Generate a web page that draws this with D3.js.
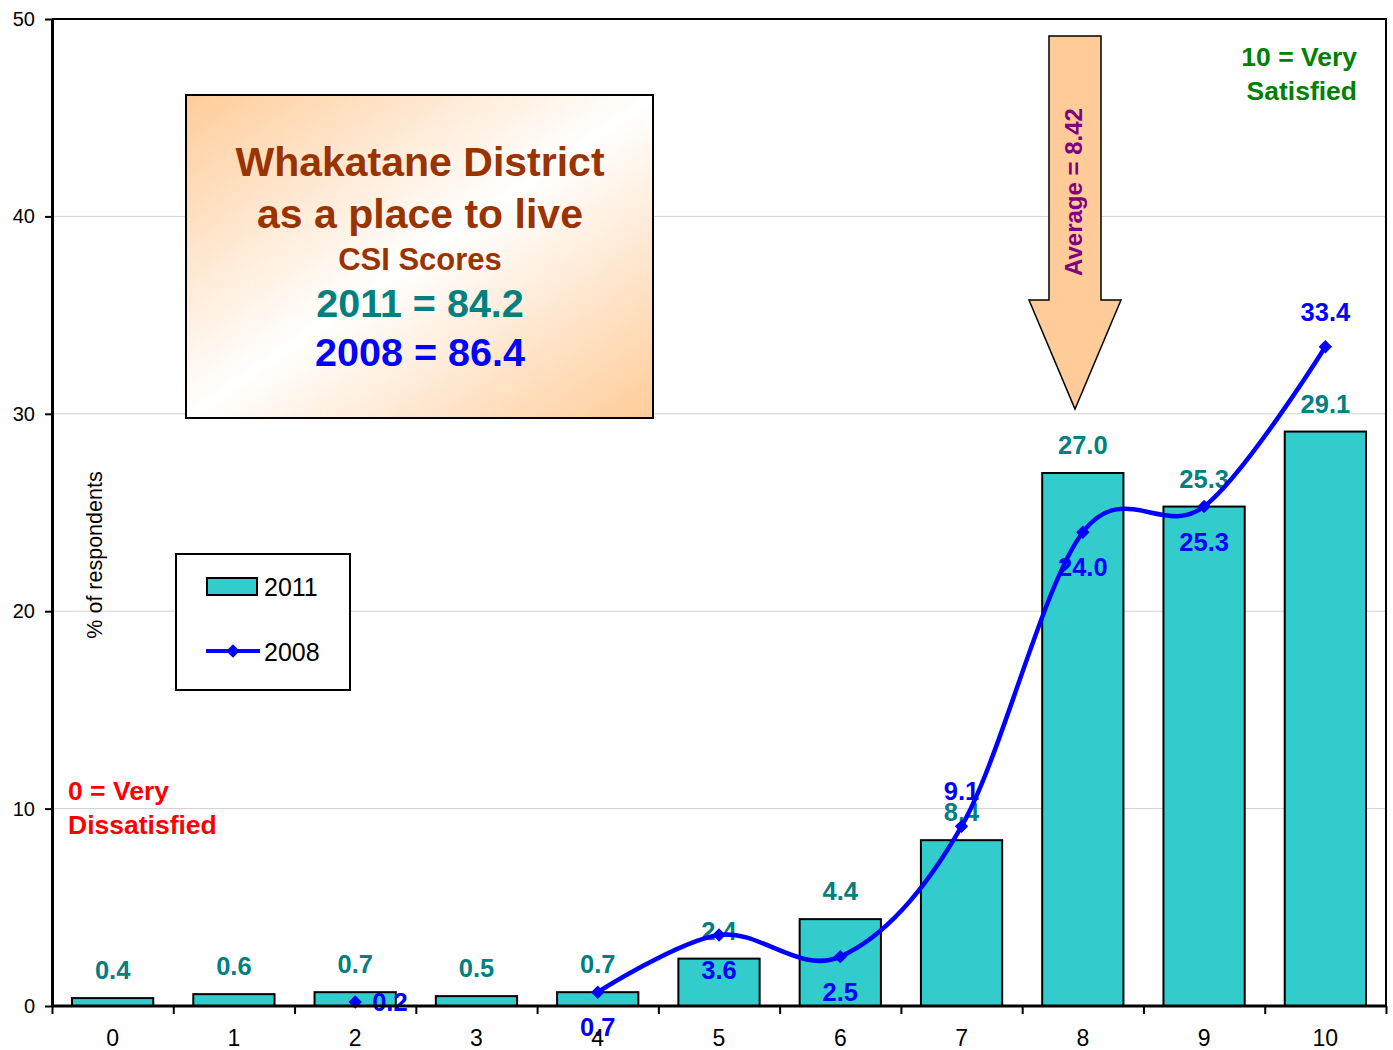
<!DOCTYPE html>
<html lang="en">
  <head>
    <meta charset="utf-8">
    <title>Whakatane District as a place to live</title>
    <script src="https://cdn.jsdelivr.net/npm/d3@7"></script>
    <style type="text/css">
      body { margin: 0; background: #fff; }
      text { font-family: "Liberation Sans", Arial, sans-serif; }
    </style>
  </head>
  <body>
    <script type="text/javascript">

      //Data
      var categories = ["0","1","2","3","4","5","6","7","8","9","10"];
      var values2011 = [0.4, 0.6, 0.7, 0.5, 0.7, 2.4, 4.4, 8.4, 27.0, 25.3, 29.1];
      var values2008 = [null, null, 0.2, null, 0.7, 3.6, 2.5, 9.1, 24.0, 25.3, 33.4];
      //where the 2008 label sits relative to its point
      var labelPos2008 = [null, null, "right", null, "below", "below", "below", "above", "below", "below", "above"];
      var yTicks = [0, 10, 20, 30, 40, 50];

      //Width and height
      var w = 1393;
      var h = 1050;
      var plotL = 52, plotR = 1386, plotT = 19, plotB = 1006;

      var svg = d3.select("body")
            .append("svg")
            .attr("width", w)
            .attr("height", h);

      //Scales
      var xScale = d3.scaleBand()
                     .domain(categories)
                     .range([plotL, plotR])
                     .padding(0);

      var yScale = d3.scaleLinear()
                     .domain([0, 50])
                     .range([plotB, plotT]);

      var barW = xScale.bandwidth() * 0.67;
      var cx = function(i) { return xScale(categories[i]) + xScale.bandwidth() / 2; };

      //Gridlines
      svg.append("g")
         .selectAll("line")
         .data(yTicks.slice(1, 5))
         .enter()
         .append("line")
         .attr("x1", plotL)
         .attr("x2", plotR)
         .attr("y1", function(d) { return yScale(d); })
         .attr("y2", function(d) { return yScale(d); })
         .attr("stroke", "#d0d0d0")
         .attr("stroke-width", 1);

      //Plot border top and right
      svg.append("path")
         .attr("d", "M" + plotL + "," + plotT + "H" + plotR + "V" + plotB)
         .attr("fill", "none")
         .attr("stroke", "#000")
         .attr("stroke-width", 2);

      //Bars 2011
      svg.append("g")
         .selectAll("rect")
         .data(values2011)
         .enter()
         .append("rect")
         .attr("x", function(d, i) { return cx(i) - barW / 2; })
         .attr("y", function(d) { return yScale(d); })
         .attr("width", barW)
         .attr("height", function(d) { return plotB - yScale(d); })
         .attr("fill", "#33CCCC")
         .attr("stroke", "#000")
         .attr("stroke-width", 2);

      //Bar labels
      svg.append("g")
         .selectAll("text")
         .data(values2011)
         .enter()
         .append("text")
         .attr("x", function(d, i) { return cx(i); })
         .attr("y", function(d) { return yScale(d) - 19; })
         .attr("text-anchor", "middle")
         .attr("font-size", "25.5px")
         .attr("font-weight", "bold")
         .attr("fill", "#008080")
         .text(function(d) { return d.toFixed(1); });

      //2008 line
      var pts2008 = values2008.map(function(d, i) { return { i: i, v: d }; });

      var line = d3.line()
                   .defined(function(d) { return d.v !== null; })
                   .curve(d3.curveCardinal.tension(0))
                   .x(function(d) { return cx(d.i); })
                   .y(function(d) { return yScale(d.v); });

      svg.append("path")
         .datum(pts2008.slice(4))
         .attr("fill", "none")
         .attr("stroke", "#0000FF")
         .attr("stroke-width", 4.5)
         .attr("d", line);

      var diamond = d3.symbol().type(d3.symbolSquare).size(90);

      svg.append("g")
         .selectAll("path")
         .data(pts2008.filter(function(d) { return d.v !== null; }))
         .enter()
         .append("path")
         .attr("d", diamond)
         .attr("transform", function(d) { return "translate(" + cx(d.i) + "," + yScale(d.v) + ") rotate(45)"; })
         .attr("fill", "#0000FF");

      //2008 labels
      svg.append("g")
         .selectAll("text")
         .data(pts2008.filter(function(d) { return d.v !== null; }))
         .enter()
         .append("text")
         .attr("x", function(d) {
           return labelPos2008[d.i] === "right" ? cx(d.i) + 17 : cx(d.i);
         })
         .attr("y", function(d) {
           var p = labelPos2008[d.i];
           if (p === "above") return yScale(d.v) - 26;
           if (p === "below") return yScale(d.v) + 44;
           return yScale(d.v) + 9;
         })
         .attr("text-anchor", function(d) { return labelPos2008[d.i] === "right" ? "start" : "middle"; })
         .attr("font-size", "25.5px")
         .attr("font-weight", "bold")
         .attr("fill", "#0000FF")
         .text(function(d) { return d.v.toFixed(1); });

      //X axis: labels at centers, ticks at band edges
      var xAxis = d3.axisBottom(xScale).tickSize(0).tickPadding(24);
      var gx = svg.append("g")
                  .attr("transform", "translate(0," + plotB + ")")
                  .call(xAxis);
      gx.select(".domain").remove();
      gx.selectAll("text").attr("font-size", "23px").attr("font-family", "Liberation Sans, Arial, sans-serif").attr("fill", "#000");

      var edges = d3.range(categories.length + 1);
      var edgeScale = d3.scaleLinear().domain([0, categories.length]).range([plotL, plotR]);
      svg.append("g")
         .attr("transform", "translate(0," + plotB + ")")
         .call(d3.axisBottom(edgeScale).tickValues(edges).tickSize(8).tickFormat(""))
         .call(function(g) {
           g.select(".domain").attr("stroke-width", 3).attr("d", "M" + plotL + ",0H" + plotR);
           g.selectAll(".tick line").attr("stroke-width", 2);
         });

      //Y axis
      var yAxis = d3.axisLeft(yScale).tickValues(yTicks).tickSize(7).tickPadding(10).tickSizeOuter(0);
      svg.append("g")
         .attr("transform", "translate(" + plotL + ",0)")
         .call(yAxis)
         .call(function(g) {
           g.select(".domain").attr("stroke-width", 3);
           g.selectAll(".tick line").attr("stroke-width", 2);
           g.selectAll("text").attr("font-size", "20px").attr("font-family", "Liberation Sans, Arial, sans-serif").attr("fill", "#000");
         });

      //Y axis title
      svg.append("text")
         .attr("transform", "translate(102,555) rotate(-90)")
         .attr("text-anchor", "middle")
         .attr("font-size", "21.5px")
         .text("% of respondents");

      //Title box with gradient
      var defs = svg.append("defs");
      var grad = defs.append("linearGradient")
                     .attr("id", "boxGrad")
                     .attr("x1", "0").attr("y1", "0")
                     .attr("x2", "1").attr("y2", "1");
      grad.append("stop").attr("offset", "0").attr("stop-color", "#FFCC99");
      grad.append("stop").attr("offset", "0.5").attr("stop-color", "#FFFFFF");
      grad.append("stop").attr("offset", "1").attr("stop-color", "#FFCC99");

      svg.append("rect")
         .attr("x", 186).attr("y", 95)
         .attr("width", 467).attr("height", 323)
         .attr("fill", "url(#boxGrad)")
         .attr("stroke", "#000")
         .attr("stroke-width", 2);

      var boxLines = [
        { t: "Whakatane District", y: 176, s: 41, c: "#993300" },
        { t: "as a place to live", y: 228, s: 41, c: "#993300" },
        { t: "CSI Scores", y: 270, s: 31, c: "#993300" },
        { t: "2011 = 84.2", y: 317, s: 39.5, c: "#008080" },
        { t: "2008 = 86.4", y: 366, s: 39.5, c: "#0000FF" }
      ];
      svg.append("g")
         .selectAll("text")
         .data(boxLines)
         .enter()
         .append("text")
         .attr("x", 420)
         .attr("y", function(d) { return d.y; })
         .attr("text-anchor", "middle")
         .attr("font-weight", "bold")
         .attr("font-size", function(d) { return d.s + "px"; })
         .attr("fill", function(d) { return d.c; })
         .text(function(d) { return d.t; });

      //Average arrow
      svg.append("path")
         .attr("d", "M1049,36H1101V300H1121L1075,409L1029,300H1049Z")
         .attr("fill", "#FFCC99")
         .attr("stroke", "#000")
         .attr("stroke-width", 1.5);

      svg.append("text")
         .attr("transform", "translate(1082,192) rotate(-90)")
         .attr("text-anchor", "middle")
         .attr("font-size", "24px")
         .attr("font-weight", "bold")
         .attr("fill", "#800080")
         .text("Average = 8.42");

      //Scale end notes
      var noteSize = "26.5px";
      svg.append("text")
         .attr("x", 1357).attr("y", 66)
         .attr("text-anchor", "end")
         .attr("font-size", noteSize).attr("font-weight", "bold")
         .attr("fill", "#008000")
         .text("10 = Very");
      svg.append("text")
         .attr("x", 1357).attr("y", 100)
         .attr("text-anchor", "end")
         .attr("font-size", noteSize).attr("font-weight", "bold")
         .attr("fill", "#008000")
         .text("Satisfied");
      svg.append("text")
         .attr("x", 68).attr("y", 800)
         .attr("font-size", noteSize).attr("font-weight", "bold")
         .attr("fill", "#FF0000")
         .text("0 = Very");
      svg.append("text")
         .attr("x", 68).attr("y", 834)
         .attr("font-size", noteSize).attr("font-weight", "bold")
         .attr("fill", "#FF0000")
         .text("Dissatisfied");

      //Legend
      var legend = svg.append("g");
      legend.append("rect")
            .attr("x", 176).attr("y", 554)
            .attr("width", 174).attr("height", 136)
            .attr("fill", "#fff")
            .attr("stroke", "#000")
            .attr("stroke-width", 2);
      legend.append("rect")
            .attr("x", 207).attr("y", 578)
            .attr("width", 50).attr("height", 17)
            .attr("fill", "#33CCCC")
            .attr("stroke", "#000")
            .attr("stroke-width", 2);
      legend.append("text")
            .attr("x", 264).attr("y", 596)
            .attr("font-size", "25px")
            .text("2011");
      legend.append("line")
            .attr("x1", 206).attr("x2", 260)
            .attr("y1", 651).attr("y2", 651)
            .attr("stroke", "#0000FF")
            .attr("stroke-width", 4);
      legend.append("path")
            .attr("d", diamond)
            .attr("transform", "translate(233,651) rotate(45)")
            .attr("fill", "#0000FF");
      legend.append("text")
            .attr("x", 264).attr("y", 661)
            .attr("font-size", "25px")
            .text("2008");

    </script>
  </body>
</html>
